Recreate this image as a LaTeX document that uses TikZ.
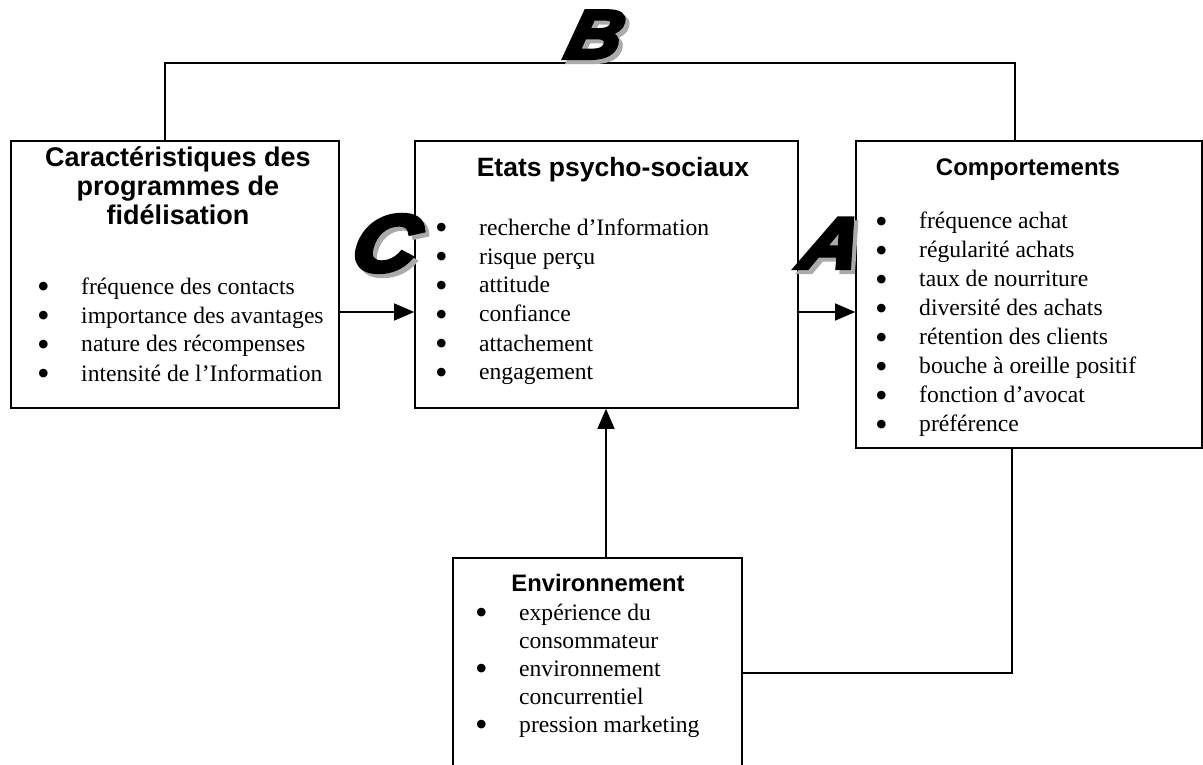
\documentclass[tikz,border=0pt]{standalone}
\usepackage{fontspec}
\setmainfont{Liberation Serif}
\newfontfamily\arial{Liberation Sans}
\newfontfamily\heavyfont[FakeBold=6,FakeSlant=0.25,FakeStretch=1.1]{Liberation Sans Bold Italic}
\usetikzlibrary{arrows.meta}
\newlength\bsep
\setlength\bsep{44pt}
\newcommand\mybul{\smash{\raisebox{-4.5pt}{\fontsize{36}{36}\selectfont\textbullet}}}
\newcommand\bl[1]{\hbox{\hbox to\bsep{\mybul\hss}#1}}
\newcommand\nb[1]{\hbox{\hbox to\bsep{\hss}#1}}
\newcommand\blist[1]{\vtop{#1}}
\definecolor{shadowgray}{HTML}{ABABAB}
\newcommand\shadowed[1]{\rlap{\hspace{4pt}\raisebox{-4pt}{\textcolor{shadowgray}{#1}}}#1}
\begin{document}
\begin{tikzpicture}[x=1pt,y=-1pt,
  box/.style={draw, line width=1.6pt, inner sep=0pt, rectangle},
  conn/.style={line width=1.3pt},
  arr/.style={conn, -{Triangle[length=20pt,width=17pt]}},
  lst/.style={inner sep=0pt, anchor=base west, font=\fontsize{23.6}{29}\selectfont},
  ttl/.style={inner sep=0pt, anchor=base, font=\arial\bfseries\fontsize{#1}{29}\selectfont},
  big/.style={inner sep=0pt, anchor=base, font=\heavyfont\fontsize{#1}{#1}\selectfont}]
\clip (0,0) rectangle (1203,765);
\useasboundingbox (0,0) rectangle (1203,765);
\fill[white] (0,0) rectangle (1203,765);

% boxes
\node[box, minimum width=328pt, minimum height=267pt] (L) at (175,274.5) {};
\node[box, minimum width=383pt, minimum height=267pt] (M) at (606.5,274.5) {};
\node[box, minimum width=346pt, minimum height=307pt] (R) at (1029,294.5) {};
\node[box, minimum width=289pt, minimum height=242pt] (E) at (597.5,679) {};

% connectors
\coordinate (b1) at (165,63);
\coordinate (b2) at (1015,63);
\coordinate (ya) at (0,312);
\coordinate (xu) at (606,0);
\coordinate (r1) at (1012,673);
\draw[conn] (L.north -| b1) -- (b1) -- (b2) -- (R.north -| b2);
\draw[arr] (L.east |- ya) -- (M.west |- ya);
\draw[arr] (M.east |- ya) -- (R.west |- ya);
\draw[arr] (E.north -| xu) -- (M.south -| xu);
\draw[conn] (R.south -| r1) -- (r1) -- (E.east |- r1);

% titles
\node[ttl=27] (LT) at (178,167) {\vtop{\halign{\hfil#\hfil\cr Caractéristiques des\cr programmes de\cr fidélisation\cr}}};
\node[ttl=26.5] (MT) at (613,177) {Etats psycho-sociaux};
\node[ttl=24] (RT) at (1028,176) {Comportements};
\node[ttl=23.8] (ET) at (598,591) {Environnement};

% lists
\node[lst] (Ll) at (37,294) {\blist{\bl{fréquence des contacts}\bl{importance des avantages}\bl{nature des récompenses}\bl{intensité de l’Information}}};
\node[lst] (Ml) at (435,235) {\blist{\bl{recherche d’Information}\bl{risque perçu}\bl{attitude}\bl{confiance}\bl{attachement}\bl{engagement}}};
\node[lst] (Rl) at (875,229) {\blist{\bl{fréquence achat}\bl{régularité achats}\bl{taux de nourriture}\bl{diversité des achats}\bl{rétention des clients}\bl{bouche à oreille positif}\bl{fonction d’avocat}\bl{préférence}}};
\node[lst, font=\fontsize{23.6}{28}\selectfont] (El) at (475,620) {\blist{\bl{expérience du}\nb{consommateur}\bl{environnement}\nb{concurrentiel}\bl{pression marketing}}};

% big letters
\node[big=68] (B) at (590,58) {\shadowed{B}};
\node[big=80] (C) at (380,271) {\shadowed{C}};
\node[big=72] (A) at (826,268) {\shadowed{A}};
\end{tikzpicture}
\end{document}
